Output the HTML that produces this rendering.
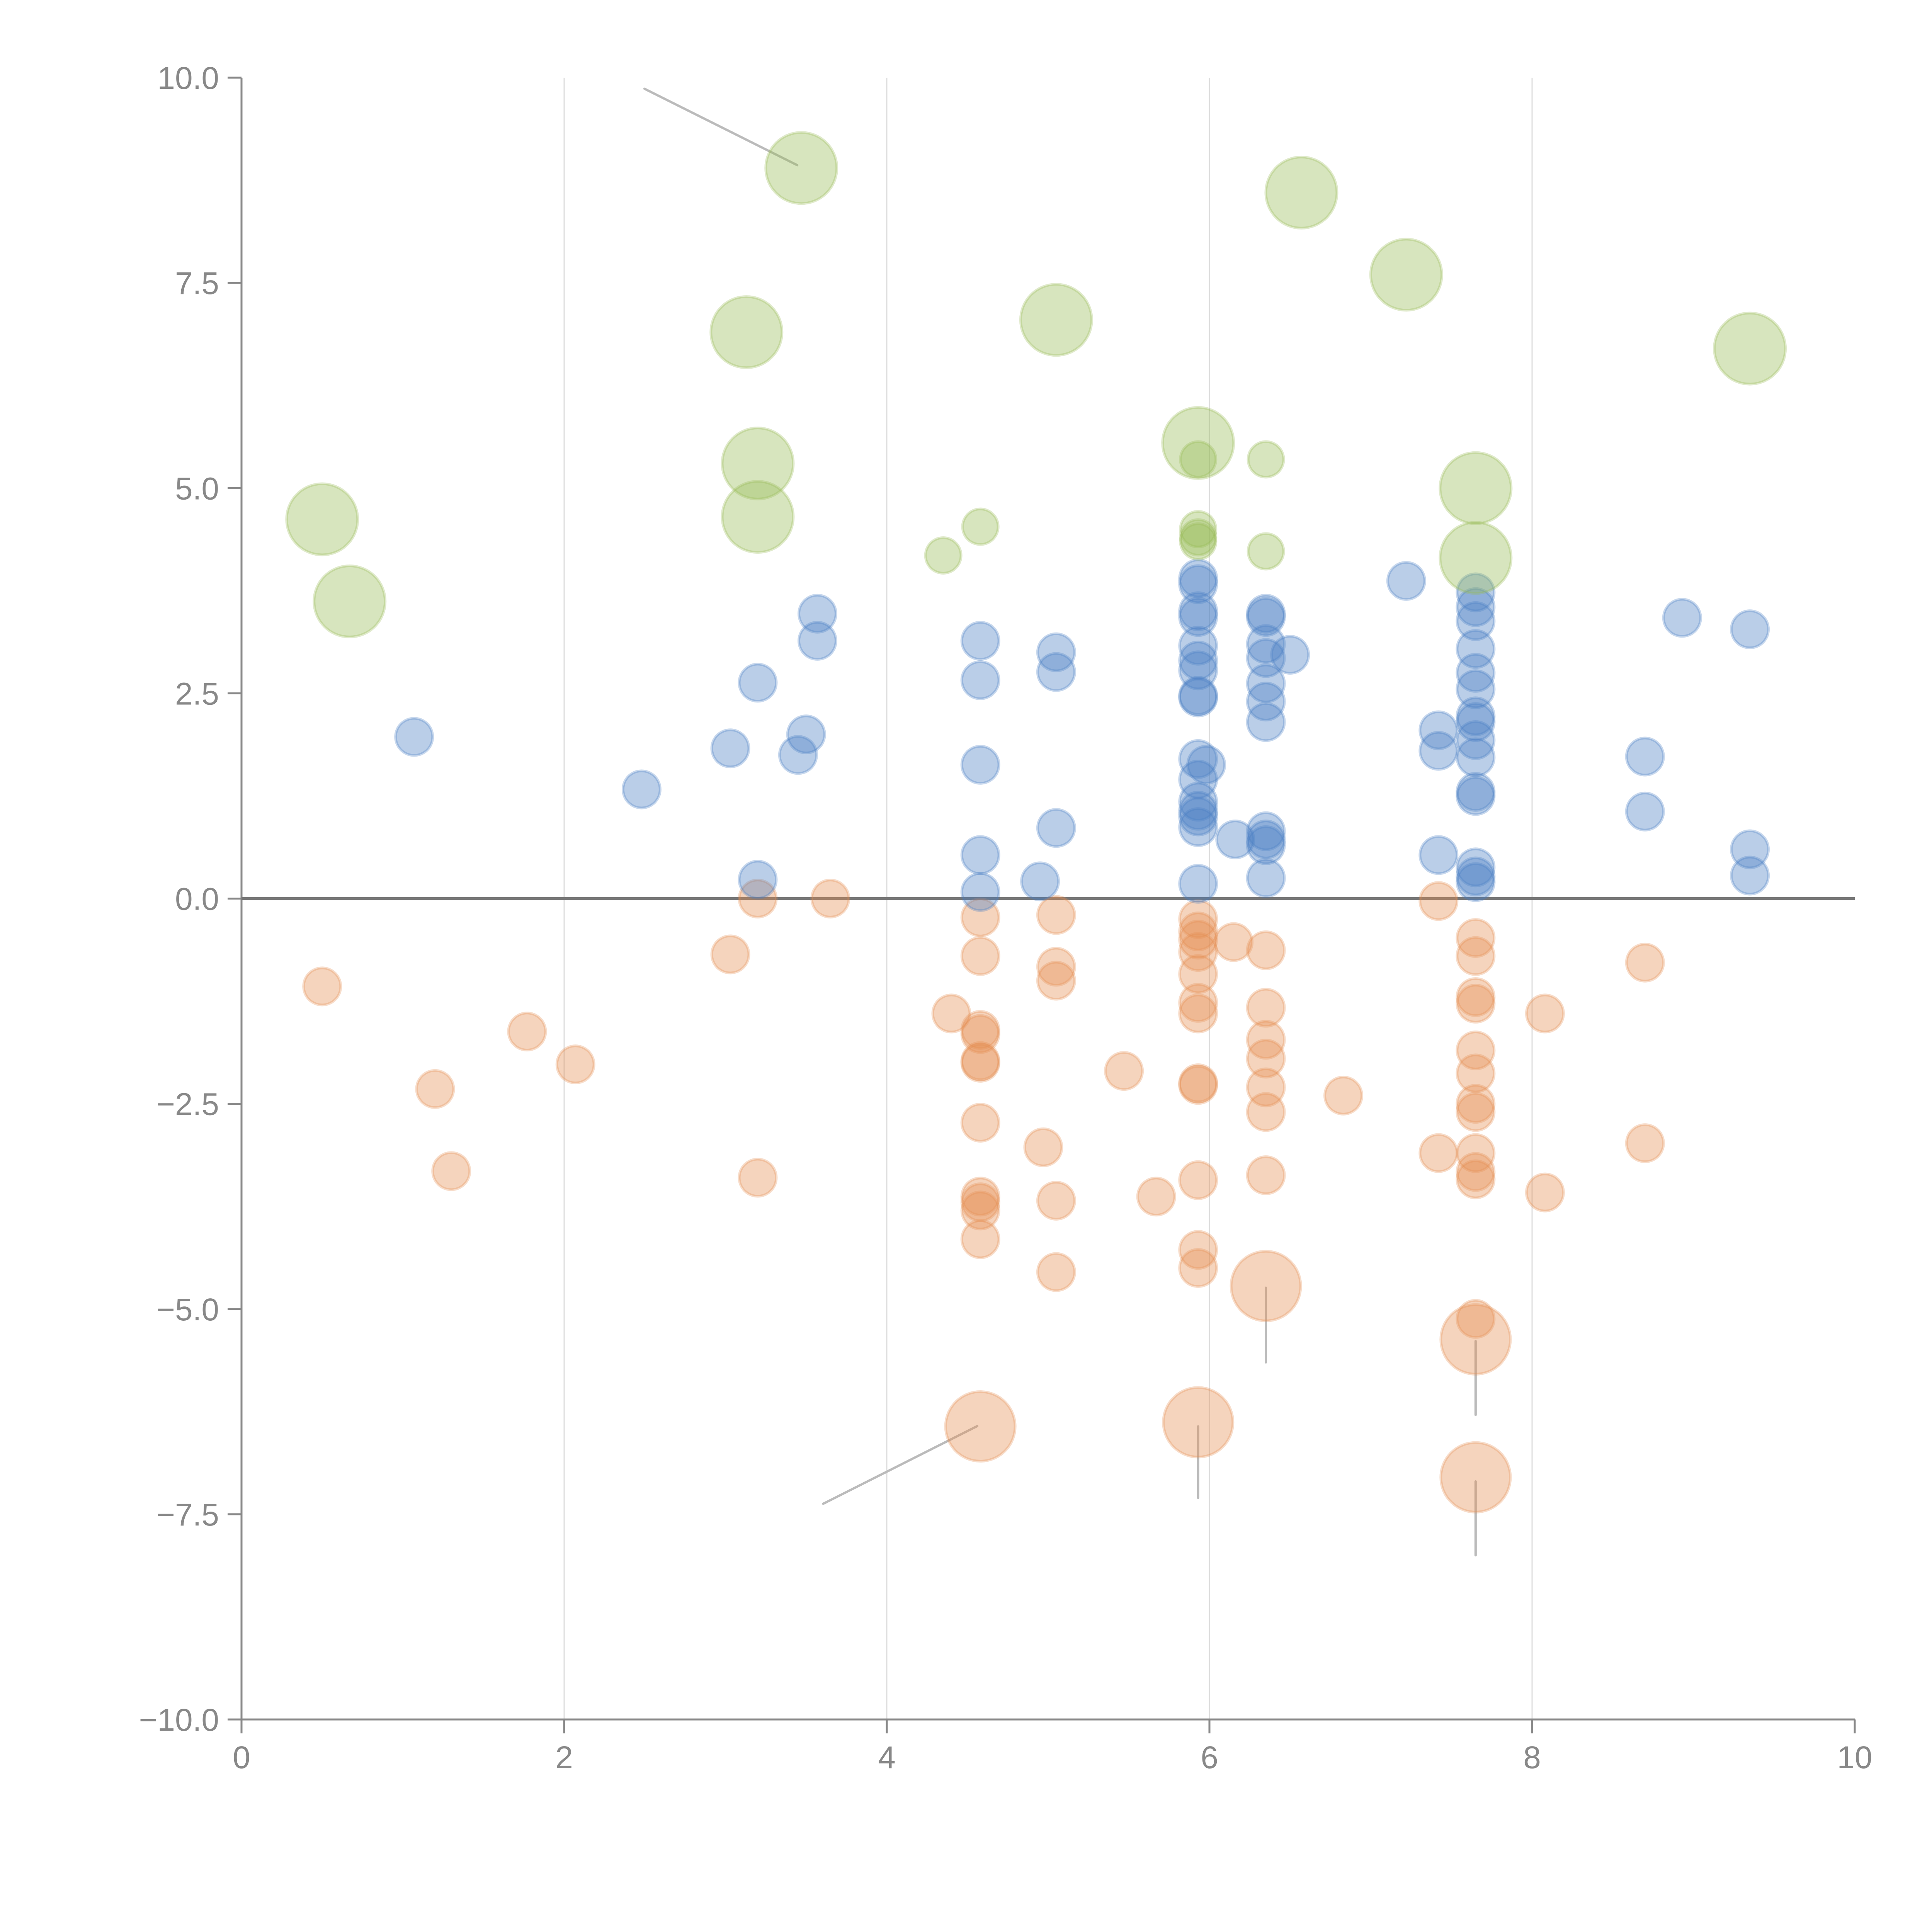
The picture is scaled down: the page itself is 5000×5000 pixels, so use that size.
<!DOCTYPE html>
<html><head><meta charset="utf-8"><title>Bubble chart</title>
<style>html,body{margin:0;padding:0;background:#fff}svg{display:block}</style></head>
<body>
<svg id="chart" width="5000" height="5000" viewBox="0 0 5000 5000" xmlns="http://www.w3.org/2000/svg">
<rect width="5000" height="5000" fill="#fff"/>
<g id="grid"></g>
<g id="axes"></g>
<g id="leaders"></g>
<g id="marks"></g>
</svg>
<script>
const xTicks = [0, 2, 4, 6, 8, 10];
const xTickLabels = ["0", "2", "4", "6", "8", "10"];
const yTicks = [-10, -7.5, -5, -2.5, 0, 2.5, 5, 7.5, 10];
const yTickLabels = ["\u221210.0", "\u22127.5", "\u22125.0", "\u22122.5", "0.0", "2.5", "5.0", "7.5", "10.0"];

const greenLargeX = [3.47, 6.57, 7.22, 3.13, 5.05, 9.35, 5.93, 3.2, 3.2, 0.5, 0.67, 7.65, 7.65];
const greenLargeY = [8.9, 8.6, 7.6, 6.9, 7.05, 6.7, 5.55, 5.3, 4.65, 4.62, 3.62, 5.0, 4.15];
const greenSmallX = [5.93, 6.35, 4.58, 4.35, 6.35, 5.93, 5.93, 5.93];
const greenSmallY = [5.35, 5.35, 4.53, 4.18, 4.23, 4.5, 4.4, 4.35];

const blueX = [1.07, 2.48, 3.03, 3.2, 3.45, 3.5, 3.57, 3.57, 3.2, 4.58, 4.58, 4.58, 4.58, 4.58, 5.05, 5.05, 5.05, 4.95,
  5.93, 5.93, 5.93, 5.93, 5.93, 5.93, 5.93, 5.93, 5.93, 5.93, 5.93, 5.93, 5.93, 5.93, 5.93, 5.93, 5.98, 6.16,
  6.35, 6.35, 6.35, 6.35, 6.35, 6.35, 6.35, 6.35, 6.35, 6.35, 6.35, 6.5, 7.22, 7.42, 7.42, 7.42,
  7.65, 7.65, 7.65, 7.65, 7.65, 7.65, 7.65, 7.65, 7.65, 7.65, 7.65, 7.65, 7.65, 7.65, 7.65, 8.7, 8.7, 8.93, 9.35, 9.35, 9.35];
const blueY = [1.97, 1.33, 1.83, 2.63, 1.75, 2.0, 3.47, 3.14, 0.23, 3.14, 2.66, 1.63, 0.53, 0.08, 3.0, 2.76, 0.86, 0.21,
  3.9, 3.83, 3.5, 3.43, 3.08, 2.9, 2.78, 2.47, 2.45, 1.7, 1.45, 1.18, 1.07, 1.0, 0.87, 0.18, 1.63, 0.72,
  3.47, 3.43, 3.1, 2.93, 2.62, 2.4, 2.15, 0.82, 0.72, 0.65, 0.25, 2.97, 3.87, 2.05, 1.8, 0.53,
  3.73, 3.55, 3.38, 3.04, 2.75, 2.55, 2.22, 2.15, 1.93, 1.72, 1.3, 1.25, 0.38, 0.27, 0.2, 1.73, 1.06, 3.42, 3.28, 0.6, 0.28];

const orangeX = [0.5, 1.2, 1.3, 1.77, 2.07, 3.03, 3.2, 3.2, 3.65, 4.4,
  4.58, 4.58, 4.58, 4.58, 4.58, 4.58, 4.58, 4.58, 4.58, 4.58, 4.58, 4.97,
  5.05, 5.05, 5.05, 5.05, 5.05, 5.47, 5.67,
  5.93, 5.93, 5.93, 5.93, 5.93, 5.93, 5.93, 5.93, 5.93, 5.93, 5.93, 5.93, 6.15,
  6.35, 6.35, 6.35, 6.35, 6.35, 6.35, 6.35, 6.83, 7.42, 7.42,
  7.65, 7.65, 7.65, 7.65, 7.65, 7.65, 7.65, 7.65, 7.65, 7.65, 7.65, 7.65, 8.08, 8.08, 8.7, 8.7];
const orangeY = [-1.07, -2.32, -3.32, -1.62, -2.02, -0.68, 0.0, -3.4, 0.0, -1.4,
  -0.23, -0.7, -1.6, -1.65, -1.98, -2.0, -2.73, -3.63, -3.7, -3.8, -4.15, -3.03,
  -0.2, -0.83, -1.0, -3.68, -4.55, -2.1, -3.63,
  -0.25, -0.4, -0.5, -0.65, -0.92, -1.27, -1.4, -2.25, -2.27, -3.43, -4.28, -4.5, -0.53,
  -0.63, -1.33, -1.72, -1.95, -2.3, -2.6, -3.37, -2.4, -0.03, -3.1,
  -0.48, -0.7, -1.2, -1.28, -1.85, -2.13, -2.5, -2.6, -3.1, -3.33, -3.42, -5.12, -1.4, -3.58, -0.78, -2.98];
const orangeLargeX = [4.58, 5.93, 6.35, 7.65, 7.65];
const orangeLargeY = [-6.43, -6.38, -4.72, -5.37, -7.05];

const leaderX1 = [2.498, 3.606, 6.35, 5.93, 7.65, 7.65];
const leaderY1 = [9.865, -7.372, -4.74, -6.43, -5.39, -7.10];
const leaderX2 = [3.445, 4.561, 6.35, 5.93, 7.65, 7.65];
const leaderY2 = [8.934, -6.426, -5.65, -7.30, -6.29, -8.0];

const NS = "http://www.w3.org/2000/svg";
const X0 = 625, X1 = 4800, Y0 = 4450, Y1 = 201;
function xs(v) { return X0 + (v - 0) / 10 * (X1 - X0); }
function ys(v) { return Y0 - (v + 10) / 20 * (Y0 - Y1); }
function mk(tag, attrs, parent) {
  const e = document.createElementNS(NS, tag);
  for (const k in attrs) e.setAttribute(k, attrs[k]);
  parent.appendChild(e);
  return e;
}
const grid = document.getElementById('grid');
const axes = document.getElementById('axes');
const leaders = document.getElementById('leaders');
const marks = document.getElementById('marks');

xTicks.forEach((t, i) => {
  if (t > 0 && t < 10) {
    const g = mk('line', {x1: xs(t), x2: xs(t), y1: Y1, y2: Y0, stroke: '#dcdcdc', 'stroke-width': 3}, grid);
    
    
  }
  const tk = mk('line', {x1: xs(t), x2: xs(t), y1: Y0, y2: Y0 + 36, stroke: '#888', 'stroke-width': 5}, axes);
  
  
  const tx = mk('text', {x: xs(t), y: Y0 + 126, 'text-anchor': 'middle', fill: '#888', 'font-size': 82, 'font-family': 'Liberation Sans, Arial, sans-serif'}, axes);
  tx.textContent = xTickLabels[i];
  
  
});
yTicks.forEach((t, i) => {
  const tk = mk('line', {x1: X0 - 36, x2: X0, y1: ys(t), y2: ys(t), stroke: '#888', 'stroke-width': 5}, axes);
  
  
  const tx = mk('text', {x: X0 - 58, y: ys(t) + 29, 'text-anchor': 'end', fill: '#888', 'font-size': 82, 'font-family': 'Liberation Sans, Arial, sans-serif'}, axes);
  tx.textContent = yTickLabels[i];
  
  
});
const ya = mk('line', {x1: X0, x2: X0, y1: Y1, y2: Y0, stroke: '#888', 'stroke-width': 5}, axes);


const xa = mk('line', {x1: X0, x2: X1, y1: Y0, y2: Y0, stroke: '#888', 'stroke-width': 5}, axes);


const zl = mk('line', {x1: X0, x2: X1, y1: ys(0), y2: ys(0), stroke: '#777', 'stroke-width': 7}, axes);



leaderX1.forEach((v, i) => {
  const l = mk('line', {x1: xs(v), y1: ys(leaderY1[i]), x2: xs(leaderX2[i]), y2: ys(leaderY2[i]), stroke: '#bbb', 'stroke-width': 6, 'stroke-linecap': 'round'}, leaders);
  
  
});

function bubbles(xa, ya, r, color, name) {
  xa.forEach((v, i) => {
    const c = mk('circle', {cx: xs(v), cy: ys(ya[i]), r: r, fill: color, 'fill-opacity': 0.38, stroke: color, 'stroke-opacity': 0.3, 'stroke-width': 7}, marks);
    
    
  });
}
bubbles(orangeX, orangeY, 48, '#e58f52', 'orange-bubble');
bubbles(orangeLargeX, orangeLargeY, 90, '#e58f52', 'orange-large-bubble');
bubbles(blueX, blueY, 48, '#4a7dc2', 'blue-bubble');
bubbles(greenSmallX, greenSmallY, 46, '#97bb55', 'green-bubble');
bubbles(greenLargeX, greenLargeY, 92, '#97bb55', 'green-large-bubble');
</script>
</body></html>
